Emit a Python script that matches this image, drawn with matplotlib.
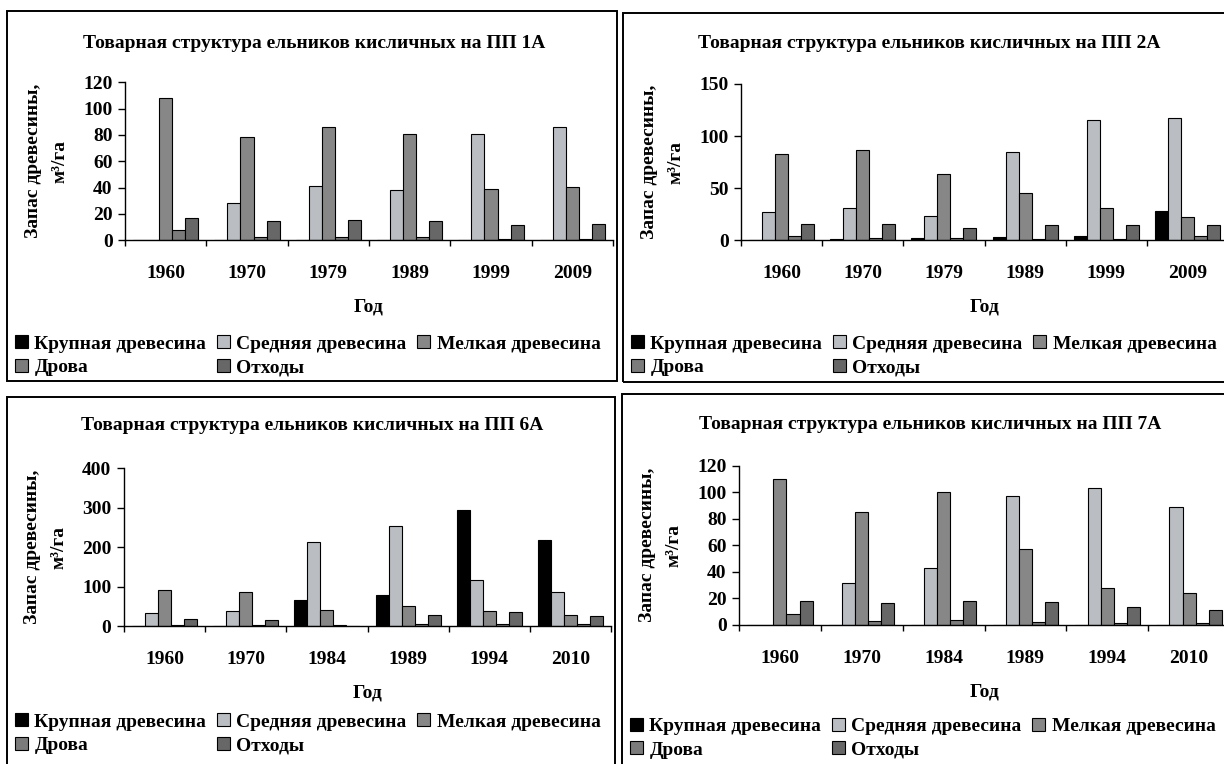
import matplotlib
matplotlib.use("Agg")
import matplotlib.pyplot as plt
from matplotlib.patches import Patch, Rectangle
import numpy as np

plt.rcParams["font.family"] = ["Liberation Serif", "DejaVu Serif"]
plt.rcParams["font.weight"] = "bold"

W, H = 1224, 764

# ---- data -------------------------------------------------------------
series_names = ["Крупная древесина", "Средняя древесина", "Мелкая древесина", "Дрова", "Отходы"]
series_colors = ["#000000", "#babdc1", "#878787", "#7b7b7b", "#676767"]

years_1a = ["1960", "1970", "1979", "1989", "1999", "2009"]
krupnaya_1a = [0, 0, 0, 0, 0, 0]
srednyaya_1a = [0, 28.7, 40.9, 38.3, 81.0, 85.8]
melkaya_1a = [107.9, 78.7, 86.3, 80.5, 38.6, 40.6]
drova_1a = [8.1, 2.8, 2.8, 2.8, 1.3, 1.3]
othody_1a = [17.3, 15.0, 15.7, 15.0, 11.9, 12.2]

years_2a = ["1960", "1970", "1979", "1989", "1999", "2009"]
krupnaya_2a = [0, 1.3, 2.2, 3.2, 3.8, 28.1]
srednyaya_2a = [27.5, 31.0, 23.0, 84.4, 115.8, 117.4]
melkaya_2a = [82.8, 86.3, 63.6, 45.4, 30.7, 22.0]
drova_2a = [3.8, 2.6, 2.2, 1.6, 1.6, 3.8]
othody_2a = [15.4, 15.7, 11.8, 14.4, 14.4, 14.7]

years_6a = ["1960", "1970", "1984", "1989", "1994", "2010"]
krupnaya_6a = [0, 0, 66.7, 80.2, 295.4, 217.7]
srednyaya_6a = [33.8, 38.0, 212.7, 253.0, 117.3, 87.8]
melkaya_6a = [92.0, 87.8, 42.2, 50.6, 38.8, 29.5]
drova_6a = [3.4, 3.4, 3.4, 5.0, 5.0, 5.0]
othody_6a = [17.7, 16.9, 0, 28.7, 36.3, 26.2]

years_7a = ["1960", "1970", "1984", "1989", "1994", "2010"]
krupnaya_7a = [0, 0, 0, 0, 0, 0]
srednyaya_7a = [0, 31.2, 42.5, 97.4, 102.9, 89.0]
melkaya_7a = [109.7, 84.8, 100.4, 57.4, 27.4, 23.9]
drova_7a = [8.3, 2.8, 3.5, 2.0, 1.5, 1.5]
othody_7a = [17.6, 16.4, 18.1, 17.1, 13.1, 11.1]

panels = [
    dict(title="Товарная структура ельников кисличных на ПП 1А", years=years_1a,
         values=[krupnaya_1a, srednyaya_1a, melkaya_1a, drova_1a, othody_1a],
         ymax=120, ystep=20, legend_dy=95,
         frame=(7, 11, 617, 381), axes=(125, 82.3, 613, 240.3), title_xy=(314, 43)),
    dict(title="Товарная структура ельников кисличных на ПП 2А", years=years_2a,
         values=[krupnaya_2a, srednyaya_2a, melkaya_2a, drova_2a, othody_2a],
         ymax=150, ystep=50, legend_dy=95,
         frame=(623, 13, 1232, 382), axes=(741, 84, 1228, 240.3), title_xy=(929, 43)),
    dict(title="Товарная структура ельников кисличных на ПП 6А", years=years_6a,
         values=[krupnaya_6a, srednyaya_6a, melkaya_6a, drova_6a, othody_6a],
         ymax=400, ystep=100, legend_dy=87,
         frame=(7, 397, 615, 772), axes=(124, 468.3, 611, 626.3), title_xy=(312, 426)),
    dict(title="Товарная структура ельников кисличных на ПП 7А", years=years_7a,
         values=[krupnaya_7a, srednyaya_7a, melkaya_7a, drova_7a, othody_7a],
         ymax=120, ystep=20, legend_dy=93,
         frame=(622, 394, 1232, 772), axes=(739, 465.7, 1230, 624.7), title_xy=(930, 425)),
]

# ---- drawing ----------------------------------------------------------
fig = plt.figure(figsize=(W / 100, H / 100), dpi=100)
fig.patch.set_facecolor("white")


def fx(px):
    return px / W


def fy(py):
    return 1 - py / H


bar_w = 0.16
FS = 14

for p in panels:
    x0, y0, x1, y1 = p["frame"]
    fig.add_artist(Rectangle((fx(x0), fy(y1)), fx(x1 - x0), (y1 - y0) / H,
                             transform=fig.transFigure, fill=False,
                             edgecolor="black", linewidth=1.4, zorder=0))

    l, t, r, b = p["axes"]
    ax = fig.add_axes([fx(l), fy(b), fx(r - l), (b - t) / H])
    ax.set_facecolor("none")
    n = len(p["years"])
    idx = np.arange(n)
    for j, (vals, col) in enumerate(zip(p["values"], series_colors)):
        ax.bar(idx + 0.5 + (j - 2) * bar_w, vals, width=bar_w, color=col,
               edgecolor="black", linewidth=0.8, zorder=2)

    ax.set_xlim(0, n)
    ax.set_ylim(0, p["ymax"])
    ax.set_yticks(np.arange(0, p["ymax"] + 1, p["ystep"]))
    ax.set_xticks(np.arange(0, n + 1))
    ax.set_xticklabels([])
    ax.set_xticks(idx + 0.5, minor=True)
    ax.set_xticklabels(p["years"], minor=True)
    for s in ("top", "right"):
        ax.spines[s].set_visible(False)
    for s in ("left", "bottom"):
        ax.spines[s].set_linewidth(1.0)
        ax.spines[s].set_color("black")
    ax.spines["bottom"].set_zorder(3)
    ax.tick_params(axis="y", direction="out", length=5, width=1, pad=4,
                   labelsize=FS)
    ax.tick_params(axis="x", which="major", direction="out", length=4, width=1)
    ax.tick_params(axis="x", which="minor", length=0, pad=18, labelsize=FS)

    ax.text(-78 / (r - l), 0.5, "Запас древесины,\nм³/га", transform=ax.transAxes,
            rotation=90, ha="center", va="center", multialignment="center",
            fontsize=FS, linespacing=1.7)
    ax.text(0.5, -67 / (b - t), "Год", transform=ax.transAxes,
            ha="center", va="center", fontsize=FS)

    tx, ty = p["title_xy"]
    fig.text(fx(tx), fy(ty), p["title"], ha="center", va="center", fontsize=14)

    handles = [Patch(facecolor=c, edgecolor="black", linewidth=0.8) for c in series_colors]
    order = [0, 3, 1, 4, 2]
    ax.legend([handles[i] for i in order], [series_names[i] for i in order],
              loc="upper left", bbox_to_anchor=(fx(x0 + 8), fy(b + p["legend_dy"])),
              bbox_transform=fig.transFigure, ncol=3, frameon=False,
              fontsize=FS, handlelength=0.65, handleheight=0.65,
              handletextpad=0.35, columnspacing=0.55, borderpad=0,
              borderaxespad=0, labelspacing=0.32)

fig.savefig("out.png", dpi=100, facecolor="white")
